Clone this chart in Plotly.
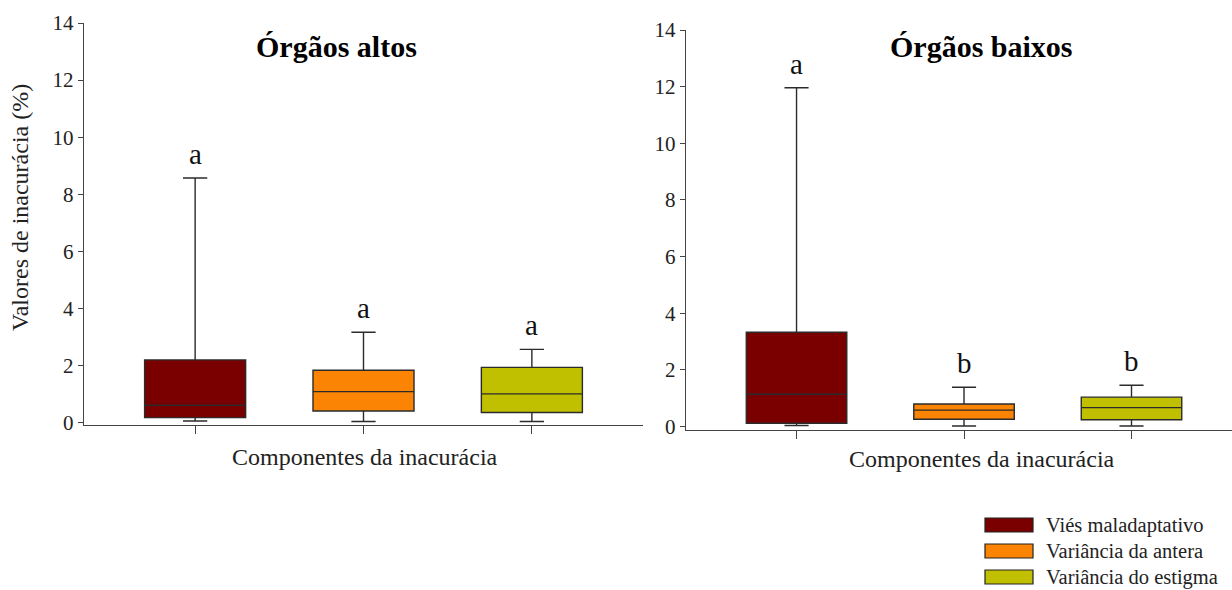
import plotly.graph_objects as go

# Componentes da inacurácia
components = ["Viés maladaptativo", "Variância da antera", "Variância do estigma"]
colors = ["#7A0000", "#FB8405", "#C0C000"]

# Órgãos altos: box statistics (%)
altos_low = [0.06, 0.04, 0.04]
altos_q1 = [0.18, 0.41, 0.36]
altos_med = [0.61, 1.09, 1.01]
altos_q3 = [2.20, 1.84, 1.94]
altos_high = [8.57, 3.17, 2.57]
altos_letters = ["a", "a", "a"]

# Órgãos baixos: box statistics (%)
baixos_low = [0.04, 0.02, 0.02]
baixos_q1 = [0.12, 0.26, 0.24]
baixos_med = [1.14, 0.58, 0.67]
baixos_q3 = [3.33, 0.80, 1.04]
baixos_high = [11.96, 1.39, 1.46]
baixos_letters = ["a", "b", "b"]

FONT = "Liberation Serif"
W, H = 1232, 590

fig = go.Figure()

panels = [
    ("x", "y", altos_low, altos_q1, altos_med, altos_q3, altos_high, altos_letters),
    ("x2", "y2", baixos_low, baixos_q1, baixos_med, baixos_q3, baixos_high, baixos_letters),
]

for xa, ya, lo, q1, md, q3, hi, letters in panels:
    for i, comp in enumerate(components):
        fig.add_trace(go.Box(
            x=[comp], lowerfence=[lo[i]], q1=[q1[i]], median=[md[i]],
            q3=[q3[i]], upperfence=[hi[i]],
            fillcolor=colors[i], line=dict(color="#2b2b2b", width=1.4),
            width=0.6, whiskerwidth=0.24, boxpoints=False,
            name=comp, showlegend=False, hoverinfo="skip",
            xaxis=xa, yaxis=ya,
        ))
        fig.add_annotation(
            x=comp, y=hi[i], xref=xa, yref=ya, text=letters[i],
            showarrow=False, xanchor="center", yanchor="bottom", yshift=6,
            font=dict(family=FONT, size=29, color="#111"),
        )

axis_common = dict(
    showline=True, linecolor="#444", linewidth=1.4, ticks="outside",
    tickcolor="#444", tickwidth=1.2, showgrid=False, zeroline=False,
    tickfont=dict(family=FONT, size=21, color="#222"),
)

fig.update_layout(
    width=W, height=H,
    margin=dict(l=0, r=0, t=0, b=0, autoexpand=False),
    plot_bgcolor="white", paper_bgcolor="white",
    showlegend=False,
    xaxis=dict(axis_common, domain=[84 / W, 643 / W], type="category",
               categoryorder="array", categoryarray=components,
               range=[-0.66, 2.66], showticklabels=False, ticklen=8),
    yaxis=dict(axis_common, domain=[1 - 425 / H, 1 - 23 / H],
               range=[-0.08, 14.0], tickvals=list(range(0, 15, 2)), ticklen=5),
    xaxis2=dict(axis_common, domain=[686 / W, 1.0], type="category",
                categoryorder="array", categoryarray=components,
                range=[-0.66, 2.6], showticklabels=False, ticklen=8,
                anchor="y2"),
    yaxis2=dict(axis_common, domain=[1 - 430 / H, 1 - 30 / H],
                range=[-0.12, 14.0], tickvals=list(range(0, 15, 2)), ticklen=5,
                anchor="x2"),
)

# Y-axis title
fig.add_annotation(x=20 / W, y=1 - 208 / H, xref="paper", yref="paper",
                   text="Valores de inacurácia (%)", textangle=-90,
                   showarrow=False, xanchor="center", yanchor="middle",
                   font=dict(family=FONT, size=24, color="#222"))

# Panel titles and x-axis titles
for text, xpx, ypx in [("Órgãos altos", 336, 47), ("Órgãos baixos", 981, 47)]:
    fig.add_annotation(x=xpx / W, y=1 - ypx / H, xref="paper", yref="paper",
                       text=f"<b>{text}</b>", showarrow=False,
                       xanchor="center", yanchor="middle",
                       font=dict(family=FONT, size=30, color="#000"))
for xpx, ypx in [(365, 457), (982, 459)]:
    fig.add_annotation(x=xpx / W, y=1 - ypx / H, xref="paper", yref="paper",
                       text="Componentes da inacurácia", showarrow=False,
                       xanchor="center", yanchor="middle",
                       font=dict(family=FONT, size=24, color="#222"))

# Legend: colour swatches with labels
for i, comp in enumerate(components):
    yc = 525 + 26 * i
    fig.add_shape(type="rect", xref="paper", yref="paper",
                  x0=985 / W, x1=1033 / W, y0=1 - (yc + 7) / H, y1=1 - (yc - 7) / H,
                  fillcolor=colors[i], line=dict(color="#222", width=1.2))
    fig.add_annotation(x=1044 / W, y=1 - yc / H, xref="paper", yref="paper",
                       text=comp, showarrow=False, xanchor="left", yanchor="middle",
                       font=dict(family=FONT, size=20.5, color="#222"))

fig.write_html("out.html")
